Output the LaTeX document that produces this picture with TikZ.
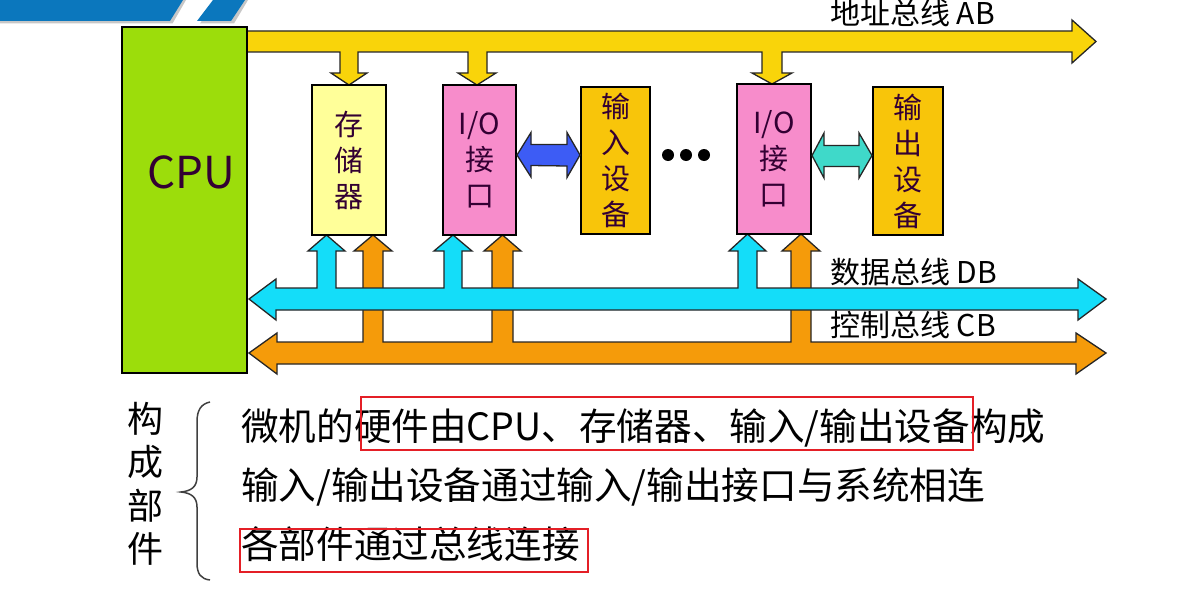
\documentclass[tikz,border=0pt]{standalone}
\usepackage{fontspec}
\setmainfont{Noto Sans CJK SC}
\usetikzlibrary{calc}
\definecolor{bannerblue}{HTML}{0B77BD}
\definecolor{cpugreen}{HTML}{9CDD0B}
\definecolor{abyellow}{HTML}{F9D40A}
\definecolor{memyellow}{HTML}{FFFF99}
\definecolor{iopink}{HTML}{F78CCB}
\definecolor{devorange}{HTML}{F8C50A}
\definecolor{blueio}{HTML}{3D5CF5}
\definecolor{tealio}{HTML}{3FD9C9}
\definecolor{dbcyan}{HTML}{14DDF9}
\definecolor{cborange}{HTML}{F59B0A}
\definecolor{boxtxt}{HTML}{330033}
\definecolor{redmark}{HTML}{E41F26}
\newcommand\boxfont{\fontsize{29}{36}\selectfont}
\newcommand\busfont{\fontsize{30}{34}\selectfont}
\newcommand\linefont{\fontsize{37.6}{42}\selectfont}
\newcommand\sidefont{\fontsize{36}{43.5}\selectfont}
\begin{document}
\begin{tikzpicture}[x=1pt,y=-1pt,
  box/.style={draw=black, line width=2pt, inner sep=0pt, align=center, text=boxtxt, font=\boxfont},
  bus/.style={draw=black!85, line width=1.3pt, line join=miter},
  buslabel/.style={anchor=west, inner sep=0pt, font=\busfont, text=black},
  textline/.style={anchor=west, inner sep=0pt, font=\linefont, text=black},
  redbox/.style={draw=redmark, line width=2.8pt},
  bracestyle/.style={draw=black!75, line width=1.5pt}]
\useasboundingbox (0,0) rectangle (1183,594);
\fill[white] (0,0) rectangle (1183,594);
% banner
\fill[black!22] (0,0) -- (186,0) -- (172.5,23.5) -- (0,23.5) -- cycle;
\fill[bannerblue] (0,0) -- (183,0) -- (170,21) -- (0,21) -- cycle;
\fill[black!22] (216,0) -- (248,0) -- (234,23.5) -- (200,23.5) -- cycle;
\fill[bannerblue] (213,0) -- (245,0) -- (231,21) -- (197,21) -- cycle;
% address bus
\draw[bus, fill=abyellow] (247,31) -- (1072,31) -- (1072,20) -- (1096,41.5) -- (1072,63) -- (1072,52)
  -- (782,52) -- (782,73) -- (792,73) -- (772,84) -- (752,73) -- (762,73) -- (762,52)
  -- (487,52) -- (487,73) -- (496,73) -- (477,85) -- (458,73) -- (468,73) -- (468,52)
  -- (358,52) -- (358,73) -- (367,73) -- (349,85) -- (331,73) -- (340,73) -- (340,52)
  -- (247,52) -- cycle;
% control bus
\draw[bus, fill=cborange] (249,353) -- (277,333) -- (277,342)
  -- (363,342) -- (363,251) -- (354,251) -- (373,235) -- (392,251) -- (383,251) -- (383,342)
  -- (492,342) -- (492,251) -- (484,251) -- (502.5,235) -- (521,251) -- (513,251) -- (513,342)
  -- (791,342) -- (791,251) -- (782,251) -- (801,234) -- (820,251) -- (811,251) -- (811,342)
  -- (1076,342) -- (1076,333) -- (1106,353) -- (1076,374) -- (1076,364) -- (277,364) -- (277,374) -- cycle;
% data bus
\draw[bus, fill=dbcyan] (249,299) -- (276,279) -- (276,288)
  -- (317,288) -- (317,251) -- (308,251) -- (326.5,235) -- (345,251) -- (336,251) -- (336,288)
  -- (444,288) -- (444,251) -- (434,251) -- (453,235) -- (472,251) -- (462,251) -- (462,288)
  -- (738,288) -- (738,251) -- (729,251) -- (747.5,234) -- (766,251) -- (757,251) -- (757,288)
  -- (1078,288) -- (1078,279) -- (1106,299) -- (1078,320) -- (1078,310) -- (276,310) -- (276,320) -- cycle;
% boxes
\node[box, fill=cpugreen, minimum width=125, minimum height=346] (cpu) at (184.5,200) {};
\node[inner sep=0pt, text=boxtxt, font=\fontsize{44}{48}\selectfont] (cpulabel) at (191,172) {CPU};
\node[box, fill=memyellow, minimum width=74, minimum height=150] (mem) at (349,160) {存\\储\\器};
\node[box, fill=iopink, minimum width=73, minimum height=150] (io1) at (479.5,160) {I/O\\接\\口};
\node[box, fill=devorange, minimum width=69, minimum height=147] (in) at (615.5,160.5) {输\\入\\设\\备};
\node[box, fill=iopink, minimum width=74, minimum height=150] (io2) at (774,159) {I/O\\接\\口};
\node[box, fill=devorange, minimum width=70, minimum height=148] (out) at (908,161) {输\\出\\设\\备};
% double arrows
\coordinate (a1) at ($(io1.east)+(0,-5)$);
\coordinate (a2) at ($(in.west)+(0,-5.5)$);
\draw[bus, fill=blueio] (a1) -- ++(14,-22.5) -- ++(0,12) -- ($(a2)+(-13,-10.5)$) -- ++(0,-12) -- (a2)
  -- ++(-13,22.5) -- ++(0,-11.5) -- ($(a1)+(14,10.5)$) -- ++(0,11.5) -- cycle;
\coordinate (a3) at ($(io2.east)+(0,-3.5)$);
\coordinate (a4) at ($(out.west)+(0,-5.5)$);
\draw[bus, fill=tealio] (a3) -- ++(12,-22.5) -- ++(0,12.5) -- ($(a4)+(-13,-10)$) -- ++(0,-12.5) -- (a4)
  -- ++(-13,22.5) -- ++(0,-11.5) -- ($(a3)+(12,11)$) -- ++(0,11.5) -- cycle;
% dots
\fill (668,155) circle (6);
\fill (686,155) circle (6);
\fill (704,155) circle (6);
% bus labels
\node[buslabel] (ablabel) at (830,13) {地址总线 AB};
\node[buslabel] (dblabel) at (830,272) {数据总线 DB};
\node[buslabel] (cblabel) at (830,325) {控制总线 CB};
% lower text
\node[inner sep=0pt, align=center, font=\sidefont, text=black] (side) at (145,484) {构\\成\\部\\件};
\draw[bracestyle] (210,402) .. controls (201,404) and (197,410) .. (197,422) -- (197,477)
  .. controls (197,487) and (191,491) .. (181,492) .. controls (191,493) and (197,497) .. (197,507)
  -- (197,563) .. controls (197,574) and (201,579) .. (210,580);
\node[textline] (l1) at (241,428) {微机的硬件由CPU、存储器、输入/输出设备构成};
\node[textline] (l2) at (241,487) {输入/输出设备通过输入/输出接口与系统相连};
\node[textline] (l3) at (241,544) {各部件通过总线连接};
\draw[redbox] (361,397) rectangle (973,450);
\draw[redbox] (240,529) rectangle (588,572);
\end{tikzpicture}
\end{document}
